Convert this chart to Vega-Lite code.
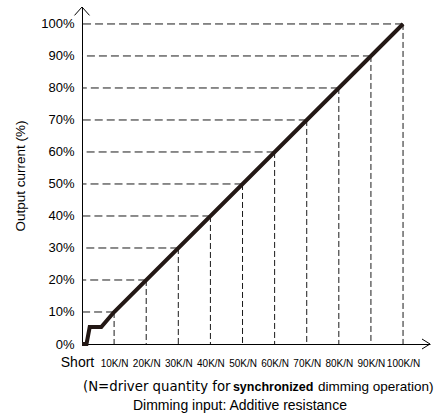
{
  "$schema": "https://vega.github.io/schema/vega-lite/v6.json",
  "autosize": {"type": "none"},
  "padding": {"left": 82, "top": 7, "right": 10, "bottom": 70},
  "width": 348,
  "height": 337,
  "background": "white",
  "config": {"view": {"stroke": null}, "axis": {"labelOverlap": false, "labelFlush": false}},
  "datasets": {
    "curve": [
      {"r": 0, "pct": 0},
      {"r": 1.4, "pct": 0},
      {"r": 2.4, "pct": 5.3},
      {"r": 6, "pct": 5.3},
      {"r": 10, "pct": 10},
      {"r": 100, "pct": 100}
    ],
    "guides": [
      {"v": 10}, {"v": 20}, {"v": 30}, {"v": 40}, {"v": 50},
      {"v": 60}, {"v": 70}, {"v": 80}, {"v": 90}, {"v": 100}
    ],
    "captions": [
      {"r": 0.3, "pct": -14.7, "t": "(N=driver quantity for", "w": "spaced"},
      {"r": 47.0, "pct": -14.7, "t": "synchronized", "w": "bold"},
      {"r": 73.5, "pct": -14.7, "t": "dimming operation)", "w": "normal"},
      {"r": 49.2, "pct": -20.5, "t": "Dimming input: Additive resistance", "w": "center"}
    ],
    "arrows": [
      {"r": 108.4, "pct": 0, "k": "x"},
      {"r": 0, "pct": 105.3, "k": "y"}
    ]
  },
  "layer": [
    {
      "data": {"name": "guides"},
      "mark": {"type": "rule", "color": "#1a1a1a", "strokeWidth": 1, "strokeDash": [8, 4]},
      "encoding": {
        "y": {"field": "v", "type": "quantitative"},
        "x": {"field": "v", "type": "quantitative"},
        "x2": {"datum": 0}
      }
    },
    {
      "data": {"name": "guides"},
      "mark": {"type": "rule", "color": "#1a1a1a", "strokeWidth": 1, "strokeDash": [6, 3]},
      "encoding": {
        "x": {"field": "v", "type": "quantitative"},
        "y": {"field": "v", "type": "quantitative"},
        "y2": {"datum": 0}
      }
    },
    {
      "data": {"name": "curve"},
      "mark": {"type": "line", "color": "#231815", "strokeWidth": 4, "strokeJoin": "miter", "strokeCap": "butt"},
      "encoding": {
        "x": {
          "field": "r",
          "type": "quantitative",
          "scale": {"domain": [0, 108.4], "nice": false, "zero": false},
          "axis": {
            "title": null,
            "values": [0, 10, 20, 30, 40, 50, 60, 70, 80, 90, 100],
            "tickCount": 30,
            "labelExpr": "datum.value == 0 ? 'Short' : datum.value + 'K/N'",
            "grid": false,
            "ticks": false,
            "domainColor": "#000000",
            "domainWidth": 1,
            "labelColor": "#000000",
            "labelBaseline": "alphabetic",
            "labelPadding": 22.5,
            "labelFont": "Liberation Sans",
            "labelFontSize": {"condition": {"test": "datum.value == 0", "value": 14}, "value": 10},
            "labelOffset": {"condition": {"test": "datum.value == 0", "value": -5}, "value": 0},
            "labelFlush": false,
            "labelOverlap": false
          }
        },
        "y": {
          "field": "pct",
          "type": "quantitative",
          "scale": {"domain": [0, 105.3], "nice": false, "zero": false},
          "axis": {
            "title": "Output current (%)",
            "titleFont": "Liberation Sans",
            "titleFontSize": 13.5,
            "titleFontWeight": "normal",
            "titleColor": "#000000",
            "titlePadding": 13,
            "values": [0, 10, 20, 30, 40, 50, 60, 70, 80, 90, 100],
            "tickCount": 30,
            "labelExpr": "datum.value + '%'",
            "grid": false,
            "ticks": false,
            "domainColor": "#000000",
            "domainWidth": 1,
            "labelColor": "#000000",
            "labelFont": "Liberation Sans",
            "labelFontSize": 13,
            "labelPadding": 8,
            "labelFlush": false,
            "labelOverlap": false
          }
        }
      }
    },
    {
      "data": {"name": "arrows"},
      "transform": [{"filter": "datum.k == 'x'"}],
      "mark": {"type": "point", "shape": "M-1.6,-1L0,0L-1.6,1", "size": 100, "filled": false, "stroke": "#000000", "strokeWidth": 1, "opacity": 1},
      "encoding": {
        "x": {"field": "r", "type": "quantitative"},
        "y": {"field": "pct", "type": "quantitative"}
      }
    },
    {
      "data": {"name": "arrows"},
      "transform": [{"filter": "datum.k == 'y'"}],
      "mark": {"type": "point", "shape": "M-1.25,1.4L0,0L1.25,1.4", "size": 144, "filled": false, "stroke": "#000000", "strokeWidth": 1, "opacity": 1},
      "encoding": {
        "x": {"field": "r", "type": "quantitative"},
        "y": {"field": "pct", "type": "quantitative"}
      }
    },
    {
      "data": {"name": "captions"},
      "transform": [{"filter": "datum.w == 'spaced'"}],
      "mark": {"type": "text", "font": "DejaVu Sans", "fontSize": 13.3, "color": "#000000", "baseline": "alphabetic", "align": "left"},
      "encoding": {
        "x": {"field": "r", "type": "quantitative"},
        "y": {"field": "pct", "type": "quantitative"},
        "text": {"field": "t", "type": "nominal"}
      }
    },
    {
      "data": {"name": "captions"},
      "transform": [{"filter": "datum.w == 'normal'"}],
      "mark": {"type": "text", "font": "Liberation Sans", "fontSize": 13.5, "color": "#000000", "baseline": "alphabetic", "align": "left"},
      "encoding": {
        "x": {"field": "r", "type": "quantitative"},
        "y": {"field": "pct", "type": "quantitative"},
        "text": {"field": "t", "type": "nominal"}
      }
    },
    {
      "data": {"name": "captions"},
      "transform": [{"filter": "datum.w == 'bold'"}],
      "mark": {"type": "text", "font": "Liberation Sans", "fontSize": 12.5, "fontWeight": "bold", "color": "#000000", "baseline": "alphabetic", "align": "left"},
      "encoding": {
        "x": {"field": "r", "type": "quantitative"},
        "y": {"field": "pct", "type": "quantitative"},
        "text": {"field": "t", "type": "nominal"}
      }
    },
    {
      "data": {"name": "captions"},
      "transform": [{"filter": "datum.w == 'center'"}],
      "mark": {"type": "text", "font": "Liberation Sans", "fontSize": 14, "color": "#000000", "baseline": "alphabetic", "align": "center"},
      "encoding": {
        "x": {"field": "r", "type": "quantitative"},
        "y": {"field": "pct", "type": "quantitative"},
        "text": {"field": "t", "type": "nominal"}
      }
    }
  ]
}
